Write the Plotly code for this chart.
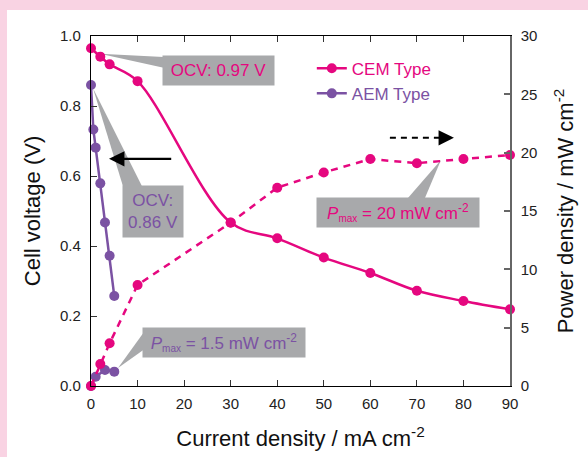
import plotly.graph_objects as go

# ---------------- data ----------------
cem_current = [0, 2, 4, 10, 30, 40, 50, 60, 70, 80, 90]
cem_voltage = [0.965, 0.941, 0.919, 0.871, 0.467, 0.422, 0.367, 0.323, 0.272, 0.243, 0.219]
cem_power = [0, 1.89, 3.66, 8.66, 14.0, 17.0, 18.3, 19.45, 19.1, 19.45, 19.8]

aem_current_v = [0, 0.5, 1, 2, 3, 4, 5]
aem_voltage = [0.86, 0.733, 0.681, 0.579, 0.467, 0.372, 0.257]
aem_current_p = [0, 1, 3, 5]
aem_power = [0, 0.8, 1.37, 1.23]

x_ticks = [0, 10, 20, 30, 40, 50, 60, 70, 80, 90]
y_ticks = [0.0, 0.2, 0.4, 0.6, 0.8, 1.0]
y2_ticks = [0, 5, 10, 15, 20, 25, 30]

PINK = "#e5077f"
PURPLE = "#7b52a3"
GRAY = "#a8a9ab"
FONT = "Liberation Sans, Arial, sans-serif"

fig = go.Figure()

# AEM power (under CEM power)
fig.add_trace(go.Scatter(x=aem_current_p, y=aem_power, yaxis="y2", mode="lines+markers",
                         line=dict(color=PURPLE, width=2.5), marker=dict(color=PURPLE, size=10),
                         showlegend=False, cliponaxis=False))
# CEM power
fig.add_trace(go.Scatter(x=cem_current, y=cem_power, yaxis="y2", mode="lines+markers",
                         line=dict(color=PINK, width=2.5, dash="7px,6px"),
                         marker=dict(color=PINK, size=10),
                         showlegend=False, cliponaxis=False))
# CEM voltage
fig.add_trace(go.Scatter(x=cem_current, y=cem_voltage, mode="lines+markers",
                         line=dict(color=PINK, width=2.5, shape="spline", smoothing=1.0),
                         marker=dict(color=PINK, size=10),
                         name="<span style='color:%s'>CEM Type</span>" % PINK, cliponaxis=False))
# AEM voltage
fig.add_trace(go.Scatter(x=aem_current_v, y=aem_voltage, mode="lines+markers",
                         line=dict(color=PURPLE, width=2.5),
                         marker=dict(color=PURPLE, size=10),
                         name="<span style='color:%s'>AEM Type</span>" % PURPLE, cliponaxis=False))

# callout wedges
def wedge(apex, b1, b2):
    return dict(type="path", xref="x", yref="y", layer="below",
                path="M %f,%f L %f,%f L %f,%f Z" % (apex[0], apex[1], b1[0], b1[1], b2[0], b2[1]),
                fillcolor=GRAY, line=dict(width=0))

shapes = [
    # pink frame
    dict(type="rect", xref="paper", yref="paper", x0=-0.3, x1=1.3, y0=1.074, y1=1.2,
         fillcolor="#f9d3e3", line=dict(width=0), layer="below"),
    dict(type="rect", xref="paper", yref="paper", x0=-0.3, x1=-0.2005, y0=-0.3, y1=1.2,
         fillcolor="#f9d3e3", line=dict(width=0), layer="below"),
    wedge((1.9, 0.949), (15.6, 0.94), (15.6, 0.909)),
    wedge((0.43, 0.851), (6.87, 0.571), (10.95, 0.571)),
    wedge((75.17, 0.6457), (68.08, 0.537), (71.73, 0.537)),
    wedge((5.8, 0.0514), (11.23, 0.1514), (11.23, 0.1029)),
    # dashed arrow shaft
    dict(type="line", xref="x", yref="y", x0=64.2, x1=76.0, y0=0.709, y1=0.709,
         line=dict(color="black", width=2, dash="6px,5px")),
]

ann_font = dict(family=FONT, size=17)
sub = "<sub><span style='font-size:10px'>max</span></sub>"
annotations = [
    dict(x=27.38, y=0.9014, xref="x", yref="y", text="OCV: 0.97 V", showarrow=False,
         bgcolor=GRAY, width=111, height=29, borderpad=0, font=dict(ann_font, color=PINK)),
    dict(x=13.32, y=0.4986, xref="x", yref="y", text="OCV:<br>0.86 V", showarrow=False,
         bgcolor=GRAY, width=60, height=51, borderpad=0, font=dict(ann_font, color=PURPLE)),
    dict(x=65.94, y=0.4957, xref="x", yref="y",
         text="<i>P</i>" + sub + " = 20 mW cm<sup>-2</sup>",
         showarrow=False, bgcolor=GRAY, width=162, height=29, borderpad=0,
         font=dict(ann_font, color=PINK)),
    dict(x=28.57, y=0.1243, xref="x", yref="y",
         text="<i>P</i>" + sub + " = 1.5 mW cm<sup>-2</sup>",
         showarrow=False, bgcolor=GRAY, width=162, height=29, borderpad=0,
         font=dict(ann_font, color=PURPLE)),
    # solid arrow
    dict(x=3.87, y=0.649, xref="x", yref="y", ax=17.55, ay=0.649, axref="x", ayref="y",
         text="", showarrow=True, arrowhead=2, arrowsize=1.4, arrowwidth=2.2,
         arrowcolor="black", standoff=0, startstandoff=0),
    # dashed arrow head
    dict(x=77.96, y=0.709, xref="x", yref="y", ax=75.0, ay=0.709, axref="x", ayref="y",
         text="", showarrow=True, arrowhead=2, arrowsize=1.4, arrowwidth=2.2,
         arrowcolor="black", standoff=0, startstandoff=0),
]

tick_font = dict(family=FONT, size=15, color="#222")
title_font = dict(family=FONT, size=22, color="#111")

fig.update_layout(
    width=588, height=457,
    margin=dict(l=91, r=78, t=36, b=71, autoexpand=False),
    paper_bgcolor="white", plot_bgcolor="white",
    font=dict(family=FONT),
    shapes=shapes, annotations=annotations,
    showlegend=True,
    legend=dict(x=0.527, y=0.958, xanchor="left", yanchor="top", bgcolor="rgba(0,0,0,0)",
                font=dict(family=FONT, size=17), tracegroupgap=0, itemwidth=30),
    xaxis=dict(range=[0, 90], tickvals=x_ticks, ticks="inside", ticklen=6, tickwidth=1,
               tickcolor="#333", showline=True, linecolor="black", linewidth=1.2,
               mirror="ticks", showgrid=False, zeroline=False, tickfont=tick_font,
               ticklabelstandoff=4,
               title=dict(text="Current density / mA cm<sup>-2</sup>", font=title_font, standoff=19)),
    yaxis=dict(range=[0, 1.0], tickvals=y_ticks, tickformat=".1f", ticks="inside", ticklen=6,
               tickwidth=1, tickcolor="#333", showline=True, linecolor="black", linewidth=1.2,
               showgrid=False, zeroline=False, tickfont=tick_font, ticklabelstandoff=6,
               title=dict(text="Cell voltage (V)", font=title_font, standoff=13)),
    yaxis2=dict(range=[0, 30], tickvals=y2_ticks, overlaying="y", side="right", ticks="inside",
                ticklen=6, tickwidth=1.5, tickcolor="#666", showline=True, linecolor="#666",
                linewidth=1.5, showgrid=False, zeroline=False, tickfont=tick_font,
                ticklabelstandoff=6,
                title=dict(text="Power density / mW cm<sup>-2</sup>", font=title_font, standoff=21)),
)

fig.write_html("out.html", config={"displayModeBar": False},
               post_script="document.body.style.margin='0';document.body.style.overflow='hidden';")
